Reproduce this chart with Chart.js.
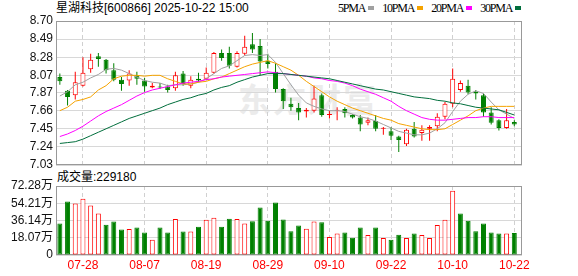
<!DOCTYPE html>
<html>
<head>
<meta charset="utf-8">
<script src="https://cdn.jsdelivr.net/npm/chart.js@4/dist/chart.umd.min.js"></script>
<style>
body{margin:0;width:578px;height:276px;background:#fff;position:relative;overflow:hidden;font-family:"Liberation Sans","Noto Sans CJK SC",sans-serif;}
.abs{position:absolute;white-space:nowrap}
#title{left:56px;top:1px;font-size:12px;line-height:14px;color:#000}
#legend{left:338px;top:1px;height:14px;display:flex;align-items:center;font:12px "Liberation Serif",serif;letter-spacing:-1.2px;color:#000}
#legend .sw{display:inline-block;width:6px;height:4px;margin:0 8px 0 3px}
#vtitle{left:57px;top:170px;font-size:12px;line-height:14px;color:#000}
#wm{left:238px;top:74px;font-size:33px;font-weight:bold;color:#ebebeb;letter-spacing:2px;font-family:"Noto Sans CJK SC",sans-serif}
canvas{position:absolute;left:0}
</style>
</head>
<body>
<div id="wm" class="abs">东方财富</div>
<div id="title" class="abs">星湖科技[600866] 2025-10-22 15:00</div>
<div id="legend" class="abs"></div>
<div id="vtitle" class="abs">成交量:229180</div>
<canvas id="kline" width="578" height="180" style="top:0"></canvas>
<canvas id="vol" width="578" height="101" style="top:175px"></canvas>
<script>
// 交易日
const dates = ['07-23','07-24','07-25','07-28','07-29','07-30','07-31','08-01','08-04','08-05',
  '08-06','08-07','08-08','08-11','08-12','08-13','08-14','08-15','08-18','08-19',
  '08-20','08-21','08-22','08-25','08-26','08-27','08-28','08-29','09-01','09-02',
  '09-03','09-04','09-05','09-08','09-09','09-10','09-11','09-12','09-15','09-16',
  '09-17','09-18','09-19','09-22','09-23','09-24','09-25','09-26','09-29','09-30',
  '10-09','10-10','10-13','10-14','10-15','10-16','10-17','10-20','10-21','10-22'];
const tickBars = [3, 11, 19, 27, 35, 43, 51, 59];

const openP  = [8.05,7.89,7.84,7.95,8.14,8.29,8.25,8.13,8.02,8.01,8.07,8.01,7.93,7.94,7.94,7.92,8.09,7.95,8.03,8.03,
  8.10,8.33,8.33,8.17,8.32,8.43,8.41,8.24,8.11,7.91,7.74,7.69,7.65,7.66,7.84,7.61,7.66,7.68,7.61,7.58,
  7.52,7.54,7.45,7.42,7.36,7.27,7.45,7.40,7.45,7.48,7.59,7.74,7.90,7.95,7.88,7.84,7.64,7.55,7.46,7.53];
const highP  = [8.09,7.90,8.11,8.28,8.32,8.33,8.26,8.21,8.05,8.13,8.11,8.04,7.98,7.98,7.96,8.11,8.12,8.06,8.10,8.16,
  8.34,8.37,8.40,8.35,8.53,8.56,8.49,8.32,8.21,7.92,7.81,7.75,7.69,7.95,7.86,7.66,7.70,7.70,7.62,7.61,
  7.58,7.61,7.47,7.47,7.37,7.45,7.53,7.49,7.49,7.63,7.76,8.15,8.01,8.02,7.90,7.86,7.70,7.56,7.68,7.55];
const lowP   = [7.96,7.72,7.79,7.94,8.10,8.17,8.09,8.00,7.89,7.95,7.96,7.88,7.92,7.91,7.87,7.89,7.95,7.92,7.99,8.02,
  8.09,8.24,8.15,8.16,8.30,8.33,8.07,8.15,7.87,7.68,7.66,7.55,7.58,7.64,7.59,7.57,7.55,7.58,7.57,7.42,
  7.49,7.42,7.38,7.32,7.18,7.25,7.35,7.31,7.31,7.42,7.56,7.70,7.88,7.85,7.79,7.59,7.50,7.43,7.45,7.48];
const closeP = [8.00,7.82,7.99,8.10,8.25,8.26,8.13,8.02,7.97,8.09,8.03,7.94,7.95,7.93,7.90,8.07,7.97,8.02,8.01,8.10,
  8.33,8.27,8.18,8.33,8.40,8.37,8.23,8.20,7.91,7.77,7.70,7.64,7.67,7.80,7.61,7.62,7.67,7.63,7.58,7.50,
  7.55,7.45,7.46,7.37,7.32,7.44,7.36,7.44,7.47,7.59,7.74,8.03,7.98,7.87,7.86,7.64,7.52,7.46,7.55,7.50];

const ma5  = [7.83,7.88,7.96,7.99,8.04,8.08,8.14,8.15,8.13,8.09,8.05,8.01,7.99,7.98,7.95,7.96,7.96,7.97,7.99,8.03,
  8.09,8.15,8.18,8.24,8.30,8.31,8.30,8.31,8.22,8.09,7.96,7.84,7.75,7.71,7.68,7.66,7.66,7.65,7.62,7.59,
  7.57,7.54,7.50,7.46,7.42,7.40,7.38,7.38,7.40,7.45,7.52,7.65,7.77,7.85,7.89,7.86,7.76,7.67,7.62,7.57];
const ma10 = [7.66,7.70,7.77,7.79,7.82,7.90,7.95,8.03,8.06,8.07,8.07,8.06,8.07,8.07,8.03,8.00,7.97,7.97,7.99,8.00,
  8.03,8.05,8.09,8.13,8.17,8.20,8.22,8.24,8.21,8.17,8.13,8.07,8.00,7.94,7.88,7.82,7.77,7.73,7.69,7.66,
  7.63,7.60,7.57,7.55,7.51,7.49,7.47,7.45,7.44,7.44,7.45,7.50,7.55,7.60,7.66,7.69,7.71,7.71,7.71,7.71];
const ma20 = [7.36,7.39,7.43,7.48,7.54,7.60,7.65,7.69,7.73,7.78,7.83,7.87,7.90,7.92,7.94,7.96,7.98,7.99,8.00,8.02,
  8.03,8.05,8.06,8.07,8.08,8.09,8.10,8.11,8.10,8.09,8.08,8.07,8.06,8.04,8.03,8.01,8.00,7.98,7.95,7.91,
  7.88,7.85,7.81,7.77,7.71,7.66,7.62,7.58,7.56,7.55,7.55,7.56,7.57,7.58,7.58,7.59,7.59,7.58,7.58,7.58];
const ma30 = [7.28,7.29,7.30,7.33,7.37,7.41,7.45,7.49,7.53,7.57,7.60,7.63,7.66,7.69,7.73,7.76,7.79,7.81,7.84,7.86,
  7.90,7.93,7.95,7.99,8.02,8.05,8.07,8.09,8.09,8.09,8.08,8.07,8.06,8.05,8.04,8.03,8.01,7.99,7.97,7.95,
  7.93,7.91,7.90,7.88,7.86,7.84,7.82,7.81,7.80,7.78,7.77,7.75,7.74,7.72,7.70,7.69,7.68,7.67,7.64,7.61];

// 成交量(手)
const volume = [329000,560000,539000,588000,518000,434000,318000,350000,266000,273000,
  287000,237000,161000,287000,237000,378000,245000,245000,297000,368000,
  389000,297000,381000,378000,329000,353000,497000,360000,549000,371000,
  248000,308000,276000,350000,342000,189000,224000,237000,182000,287000,
  210000,287000,179000,161000,213000,179000,224000,210000,179000,315000,
  368000,672000,434000,360000,248000,329000,237000,224000,224000,229180];

const priceTicks = [8.70, 8.49, 8.28, 8.07, 7.87, 7.66, 7.45, 7.24, 7.03];
const volTicks = [0, 180700, 361400, 542100, 722800];

const maNames = ['5PMA', '10PMA', '20PMA', '30PMA'];
const maColors = ['#a0a0a0', '#f5a300', '#ff00ff', '#006e3c'];

const RED = '#ff0000', GREEN = '#008000';

// 图例
const legend = document.getElementById('legend');
maNames.forEach((n, k) => {
  const t = document.createElement('span'); t.textContent = n;
  const s = document.createElement('span'); s.className = 'sw'; s.style.background = maColors[k];
  legend.appendChild(t); legend.appendChild(s);
});

const up = closeP.map((c, i) => c >= openP[i]);
const volUp = closeP.map((c, i) => c >= (i ? closeP[i - 1] : openP[0]));

const frame = {
  id: 'frame',
  beforeDatasetsDraw(chart) {
    const {ctx, chartArea: a} = chart;
    ctx.save();
    ctx.strokeStyle = '#999';
    ctx.lineWidth = 1;
    ctx.strokeRect(Math.round(a.left) + 0.5, Math.round(a.top) + 0.5,
      Math.round(a.right - a.left) - 1, Math.round(a.bottom - a.top) - 1);
    ctx.restore();
  }
};

const tickFont = {family: '"Liberation Sans", "Noto Sans CJK SC", sans-serif', size: 12};

function xAxis(showLabels) {
  return {
    type: 'linear', min: -0.5, max: 60, offset: false,
    afterBuildTicks: s => { s.ticks = tickBars.map(v => ({value: v})); },
    afterFit: s => { s.height = showLabels ? 21 : 0; },
    ticks: showLabels
      ? {color: RED, font: tickFont, padding: 3, autoSkip: false, maxRotation: 0, callback: v => dates[v]}
      : {display: false},
    grid: {color: '#d0d0d0', drawTicks: false, offset: false},
    border: {display: false, dash: [4, 3]}
  };
}

const maSets = [ma5, ma10, ma20, ma30].map((arr, k) => ({
  type: 'line', label: maNames[k],
  data: arr.map((v, i) => ({x: i, y: v})),
  borderColor: maColors[k], borderWidth: 1, pointRadius: 0, tension: 0,
  order: k === 3 ? 0 : 4 - k
}));

new Chart(document.getElementById('kline'), {
  type: 'bar',
  data: {
    datasets: [
      ...maSets,
      {
        label: 'body',
        data: dates.map((d, i) => ({x: i, y: [openP[i], closeP[i]]})),
        backgroundColor: up.map(u => u ? '#ffffff' : GREEN),
        borderColor: up.map(u => u ? RED : GREEN),
        borderWidth: 1, borderSkipped: false, barThickness: 5, grouped: false,
        minBarLength: 1, inflateAmount: 0, order: 5
      },
      {
        label: 'wick',
        data: dates.map((d, i) => ({x: i, y: [lowP[i], highP[i]]})),
        backgroundColor: up.map(u => u ? RED : GREEN),
        borderWidth: 0, barThickness: 1, grouped: false, inflateAmount: 0, order: 6
      }
    ]
  },
  options: {
    responsive: false, animation: false, devicePixelRatio: 1,
    layout: {padding: {top: 21, bottom: 15, left: 0, right: 56}},
    plugins: {legend: {display: false}, tooltip: {enabled: false}},
    scales: {
      x: xAxis(false),
      y: {
        min: 7.03, max: 8.70,
        afterBuildTicks: s => { s.ticks = priceTicks.map(v => ({value: v})); },
        afterFit: s => { s.width = 56; },
        ticks: {color: '#111', font: tickFont, padding: 3, autoSkip: false, callback: v => v.toFixed(2)},
        grid: {color: '#d8d8d8', drawTicks: false},
        border: {display: false}
      }
    }
  },
  plugins: [frame]
});

new Chart(document.getElementById('vol'), {
  type: 'bar',
  data: {
    datasets: [{
      label: '成交量',
      data: volume.map((v, i) => ({x: i, y: v})),
      backgroundColor: volUp.map(u => u ? '#ffffff' : GREEN),
      borderColor: volUp.map(u => u ? RED : GREEN),
      borderWidth: 1, borderSkipped: false, barThickness: 5, grouped: false, inflateAmount: 0
    }]
  },
  options: {
    responsive: false, animation: false, devicePixelRatio: 1,
    layout: {padding: {top: 11, bottom: 0, left: 0, right: 56}},
    plugins: {legend: {display: false}, tooltip: {enabled: false}},
    scales: {
      x: xAxis(true),
      y: {
        min: 0, max: 722800,
        afterBuildTicks: s => { s.ticks = volTicks.map(v => ({value: v})); },
        afterFit: s => { s.width = 56; },
        ticks: {color: '#111', font: tickFont, padding: 3, autoSkip: false,
          callback: v => v === 0 ? '0' : (v / 10000).toFixed(2) + '万'},
        grid: {color: '#d8d8d8', drawTicks: false},
        border: {display: false}
      }
    }
  },
  plugins: [frame]
});
</script>
</body>
</html>
